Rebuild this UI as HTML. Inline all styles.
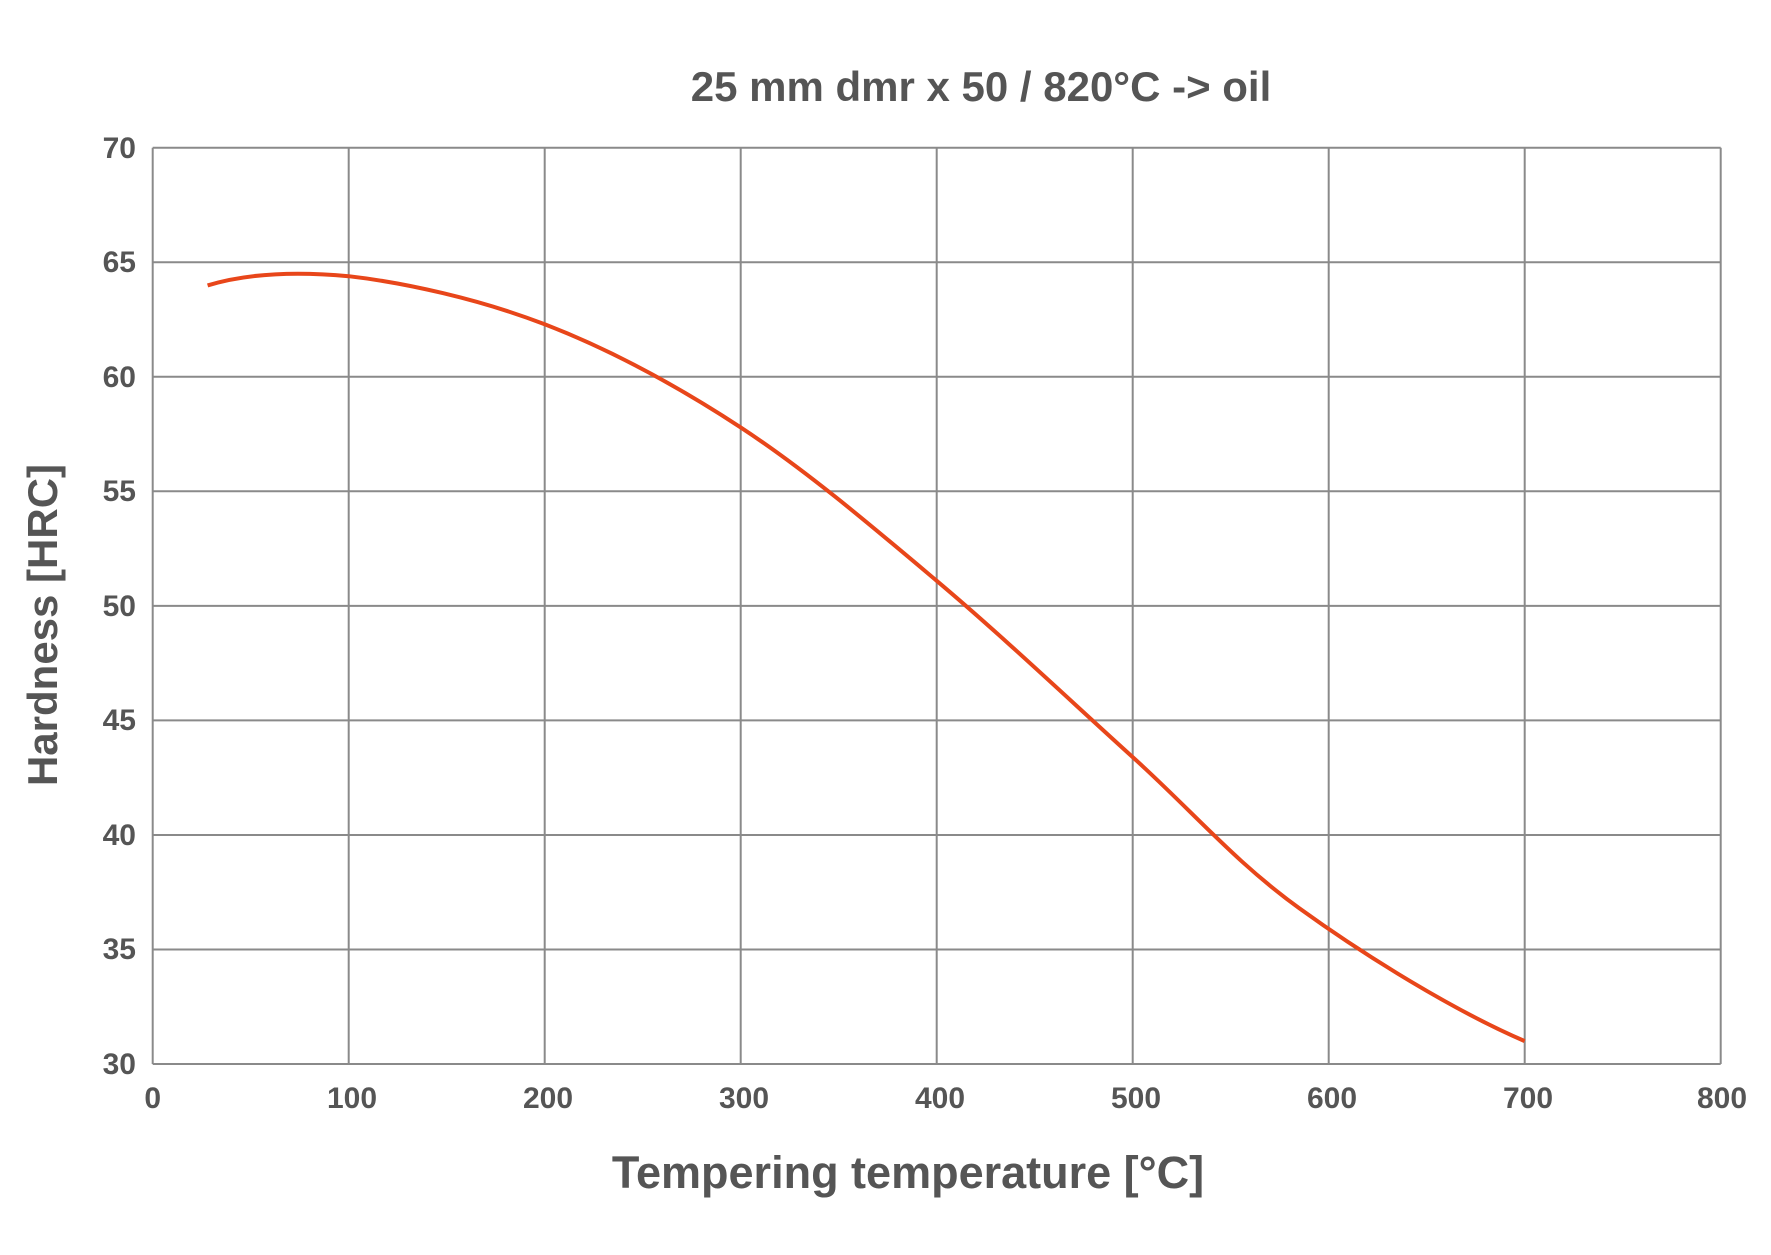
<!DOCTYPE html>
<html><head><meta charset="utf-8"><style>body{margin:0;background:#fff}</style></head><body>
<svg width="1771" height="1250" xmlns="http://www.w3.org/2000/svg" font-family="Liberation Sans, sans-serif" fill="#555">
<g stroke="#8a8a8a" stroke-width="2">
<line x1="152.7" y1="147.7" x2="1720.7" y2="147.7"/>
<line x1="152.7" y1="262.2" x2="1720.7" y2="262.2"/>
<line x1="152.7" y1="376.8" x2="1720.7" y2="376.8"/>
<line x1="152.7" y1="491.3" x2="1720.7" y2="491.3"/>
<line x1="152.7" y1="605.9" x2="1720.7" y2="605.9"/>
<line x1="152.7" y1="720.4" x2="1720.7" y2="720.4"/>
<line x1="152.7" y1="835" x2="1720.7" y2="835"/>
<line x1="152.7" y1="949.5" x2="1720.7" y2="949.5"/>
<line x1="152.7" y1="1064" x2="1720.7" y2="1064"/>
<line x1="152.7" y1="147.7" x2="152.7" y2="1064"/>
<line x1="348.7" y1="147.7" x2="348.7" y2="1064"/>
<line x1="544.7" y1="147.7" x2="544.7" y2="1064"/>
<line x1="740.7" y1="147.7" x2="740.7" y2="1064"/>
<line x1="936.7" y1="147.7" x2="936.7" y2="1064"/>
<line x1="1132.7" y1="147.7" x2="1132.7" y2="1064"/>
<line x1="1328.7" y1="147.7" x2="1328.7" y2="1064"/>
<line x1="1524.7" y1="147.7" x2="1524.7" y2="1064"/>
<line x1="1720.7" y1="147.7" x2="1720.7" y2="1064"/>
</g>
<path d="M207.6,285.4 C245,274 292.5,271 348.7,276.2 C404.9,282.7 479.4,299.1 544.7,324.3 C610,349.5 675.4,384.65 740.7,427.4 C806,470.2 871.4,525.8 936.7,580.8 C1002,635.8 1072.3,702.5 1132.7,757.1 C1193.1,811.7 1234,861 1299.3,908.3 C1364.6,955.6 1454.7,1011.1 1524.7,1041.1" fill="none" stroke="#e8461a" stroke-width="4"/>
<g font-size="30" font-weight="bold" text-anchor="end">
<text x="136" y="158">70</text><text x="136" y="272">65</text><text x="136" y="387">60</text><text x="136" y="501">55</text><text x="136" y="616">50</text><text x="136" y="730">45</text><text x="136" y="845">40</text><text x="136" y="959">35</text><text x="136" y="1074">30</text>
</g>
<g font-size="30" font-weight="bold" text-anchor="middle">
<text x="152.7" y="1108">0</text><text x="352" y="1108">100</text><text x="548" y="1108">200</text><text x="744" y="1108">300</text><text x="940" y="1108">400</text><text x="1136" y="1108">500</text><text x="1332" y="1108">600</text><text x="1528" y="1108">700</text><text x="1722" y="1108">800</text>
</g>
<text x="981" y="101" font-size="42" font-weight="bold" text-anchor="middle">25 mm dmr x 50 / 820°C -&gt; oil</text>
<text x="908" y="1188" font-size="45" font-weight="bold" text-anchor="middle">Tempering temperature [°C]</text>
<text transform="translate(57,625) rotate(-90)" font-size="42" font-weight="bold" text-anchor="middle">Hardness [HRC]</text>
</svg>
</body></html>
